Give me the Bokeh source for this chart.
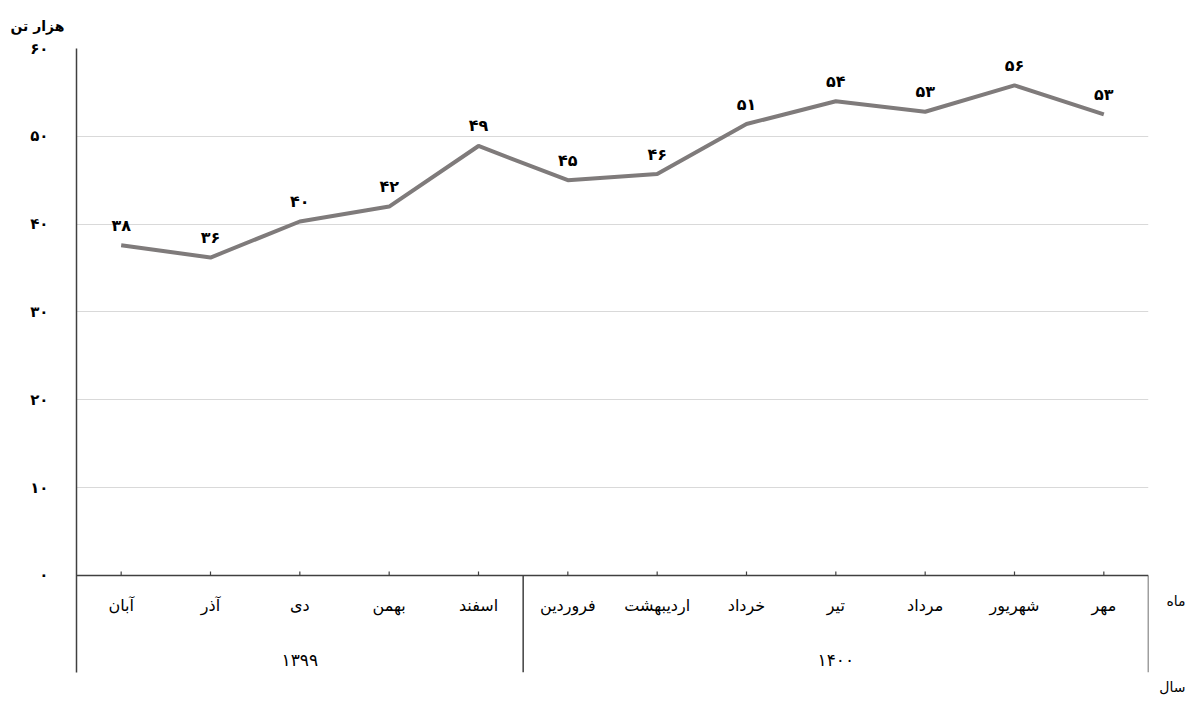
from bokeh.plotting import figure
from bokeh.models import Range1d, FixedTicker, ColumnDataSource, LinearAxis, Title
from bokeh.core.properties import value
from bokeh.embed import file_html
from bokeh.resources import INLINE

# ---- data ----
months = ["آبان", "آذر", "دی", "بهمن", "اسفند",
          "فروردین", "اردیبهشت", "خرداد", "تیر", "مرداد", "شهریور", "مهر"]
years = ["۱۳۹۹", "۱۴۰۰"]
months_per_year = [5, 7]
values = [37.6, 36.2, 40.3, 42.0, 48.9, 45.0, 45.7, 51.4, 54.0, 52.8, 55.8, 52.5]
value_labels = [38, 36, 40, 42, 49, 45, 46, 51, 54, 53, 56, 53]
y_ticks = [0, 10, 20, 30, 40, 50, 60]
y_title = "هزار تن"
month_title = "ماه"
year_title = "سال"

FA = str.maketrans("0123456789", "۰۱۲۳۴۵۶۷۸۹")
def fa(n):
    return str(n).translate(FA)

FONT = "DejaVu Sans"
n = len(months)
xs = [i + 0.5 for i in range(n)]

bounds = [0]
for c in months_per_year:
    bounds.append(bounds[-1] + c)
year_centers = [(bounds[i] + bounds[i + 1]) / 2 for i in range(len(years))]

px_per_unit = 624 / 71.05
y_bottom = -11.05

p = figure(frame_width=1072, frame_height=624,
           x_range=Range1d(0, n), y_range=Range1d(y_bottom, 60),
           output_backend="svg", toolbar_location=None,
           x_axis_location=None,
           min_border_left=76, min_border_right=46,
           min_border_top=48, min_border_bottom=30)
p.outline_line_color = None
p.xgrid.visible = False

ax = p.yaxis[0]
ax.ticker = FixedTicker(ticks=y_ticks)
ax.major_label_overrides = {t: fa(t) for t in y_ticks}
ax.major_tick_line_color = None
ax.minor_tick_line_color = None
ax.axis_line_color = "#404040"
ax.axis_line_width = 1.5
ax.major_label_standoff = 22
ax.major_label_text_font = FONT
ax.major_label_text_font_size = "15px"
ax.major_label_text_font_style = "bold"
ax.major_label_text_color = "#000000"

p.ygrid.ticker = FixedTicker(ticks=[t for t in y_ticks if t > 0])
p.ygrid.grid_line_color = "#d9d9d9"
p.ygrid.grid_line_width = 1

# right-side row caption (month row)
rax = LinearAxis(ticker=FixedTicker(ticks=[-2.9]),
                 major_label_overrides={-2.9: month_title})
rax.axis_line_color = None
rax.major_tick_line_color = None
rax.minor_tick_line_color = None
rax.major_label_standoff = 12
rax.major_label_text_font = FONT
rax.major_label_text_font_size = "14px"
rax.major_label_text_color = "#000000"
p.add_layout(rax, "right")

# series line
src = ColumnDataSource(dict(x=xs, y=values, lab=[fa(v) for v in value_labels]))
p.line("x", "y", source=src, line_color="#7f7b7b", line_width=4)
p.text("x", "y", text="lab", source=src, y_offset=-20,
       text_align="center", text_baseline="middle",
       text_font=value(FONT), text_font_size="16px", text_font_style="bold",
       text_color="#000000")

# category axis line and inner ticks
p.segment(x0=[0], y0=[0], x1=[n], y1=[0], line_color="#404040", line_width=1.5)
tick_len = 4 / px_per_unit
p.segment(x0=xs, y0=[0] * n, x1=xs, y1=[tick_len] * n,
          line_color="#404040", line_width=1.2)
p.segment(x0=bounds[1:], y0=[0] * (len(bounds) - 1), x1=bounds[1:],
          y1=[y_bottom] * (len(bounds) - 1), line_color="#404040", line_width=1.5)

# month labels
p.text(xs, [-3.4] * n, text=months, text_align="center", text_baseline="middle",
       text_font=value(FONT), text_font_size="16px", text_color="#000000")
# year labels
p.text(year_centers, [-9.6] * len(years), text=years, text_align="center",
       text_baseline="middle", text_font=value(FONT), text_font_size="17px",
       text_color="#000000")

# outer captions
p.add_layout(Title(text=y_title, align="left", offset=-66, standoff=30,
                   text_font=FONT, text_font_size="14px", text_font_style="bold",
                   text_color="#000000"), "above")
p.add_layout(Title(text=year_title, align="right", offset=-37, standoff=8,
                   text_font=FONT, text_font_size="14px", text_font_style="normal",
                   text_color="#000000"), "below")

open("out.html", "w").write(file_html(p, INLINE))
